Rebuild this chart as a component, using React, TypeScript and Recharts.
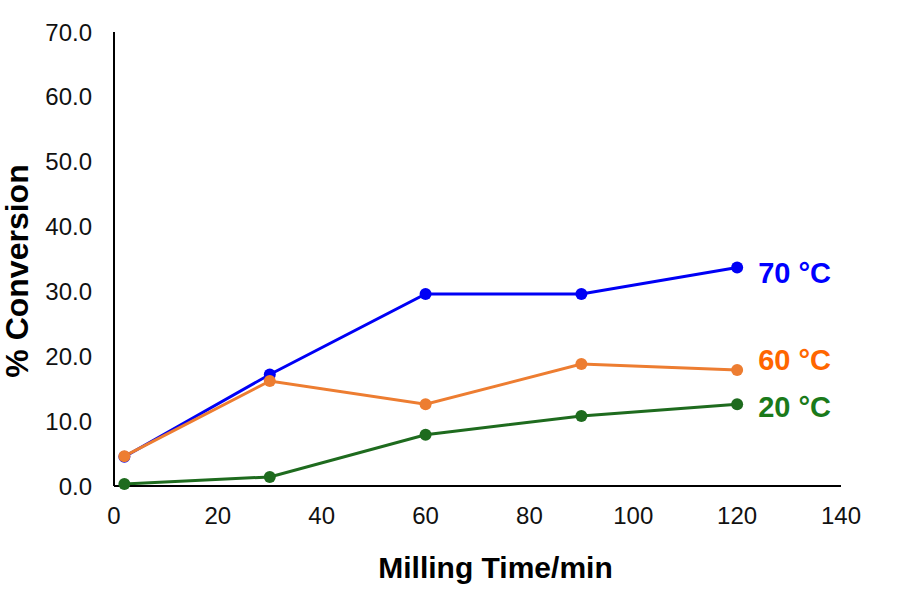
import React from 'react';
import { LineChart, Line, XAxis, YAxis } from 'recharts';

const times = [2, 30, 60, 90, 120];
const conv70 = [4.5, 17.2, 29.6, 29.6, 33.7];
const conv60 = [4.6, 16.2, 12.6, 18.8, 17.9];
const conv20 = [0.3, 1.4, 7.9, 10.8, 12.6];
const xTicks = [0, 20, 40, 60, 80, 100, 120, 140];
const yTicks = [0, 10, 20, 30, 40, 50, 60, 70];
const seriesNames = ['70 °C', '60 °C', '20 °C'];

const data = times.map((t, i) => ({ t, c70: conv70[i], c60: conv60[i], c20: conv20[i] }));

const FONT = '"Liberation Sans", Arial, sans-serif';

const makeEndLabel = (text: string, color: string, dy: number) => (props: any) => {
  const { x, y, index } = props;
  if (index !== times.length - 1) return null;
  return (
    <text
      x={x + 21}
      y={y + dy}
      fill={color}
      fontFamily={FONT}
      fontWeight="bold"
      fontSize={29}
      dominantBaseline="central"
    >
      {text}
    </text>
  );
};

export default function App() {
  return (
    <div style={{ position: 'absolute', left: 0, top: 0, background: '#fff' }}>
      <LineChart width={900} height={600} data={data} margin={{ top: 32, right: 59, bottom: 0, left: 0 }}>
        <XAxis
          dataKey="t"
          type="number"
          domain={[0, 140]}
          ticks={xTicks}
          height={114}
          tickLine={false}
          tickSize={6}
          tickMargin={15}
          axisLine={{ stroke: '#000', strokeWidth: 2 }}
          tick={{ fill: '#111', fontSize: 24, fontFamily: FONT }}
          label={{
            content: (p: any) => {
              const vb = p.viewBox;
              return (
                <text
                  x={vb.x + vb.width / 2 + 18}
                  y={vb.y + 92}
                  textAnchor="middle"
                  fontFamily={FONT}
                  fontWeight="bold"
                  fontSize={30}
                  fill="#000"
                >
                  Milling Time/min
                </text>
              );
            },
          }}
        />
        <YAxis
          type="number"
          domain={[0, 70]}
          ticks={yTicks}
          width={114}
          tickLine={false}
          tickSize={6}
          tickMargin={16}
          tickFormatter={(v: number) => v.toFixed(1)}
          axisLine={{ stroke: '#000', strokeWidth: 2 }}
          tick={{ fill: '#111', fontSize: 24, fontFamily: FONT }}
          label={{
            content: (p: any) => {
              const vb = p.viewBox;
              const cy = vb.y + vb.height / 2 + 12;
              return (
                <text
                  x={17}
                  y={cy}
                  transform={`rotate(-90 17 ${cy})`}
                  textAnchor="middle"
                  dominantBaseline="central"
                  fontFamily={FONT}
                  fontWeight="bold"
                  fontSize={32}
                  fill="#000"
                >
                  % Conversion
                </text>
              );
            },
          }}
        />
        <Line
          dataKey="c70"
          stroke="#0000F5"
          strokeWidth={3}
          dot={{ r: 6, fill: '#0000F5', stroke: '#0000F5', strokeWidth: 0 }}
          isAnimationActive={false}
          label={makeEndLabel(seriesNames[0], '#0000FF', 6)}
        />
        <Line
          dataKey="c60"
          stroke="#ED7D31"
          strokeWidth={3}
          dot={{ r: 6, fill: '#ED7D31', stroke: '#ED7D31', strokeWidth: 0 }}
          isAnimationActive={false}
          label={makeEndLabel(seriesNames[1], '#FF6600', -10)}
        />
        <Line
          dataKey="c20"
          stroke="#1E6B1E"
          strokeWidth={3}
          dot={{ r: 6, fill: '#1E6B1E', stroke: '#1E6B1E', strokeWidth: 0 }}
          isAnimationActive={false}
          label={makeEndLabel(seriesNames[2], '#1A7A1A', 3)}
        />
      </LineChart>
    </div>
  );
}
